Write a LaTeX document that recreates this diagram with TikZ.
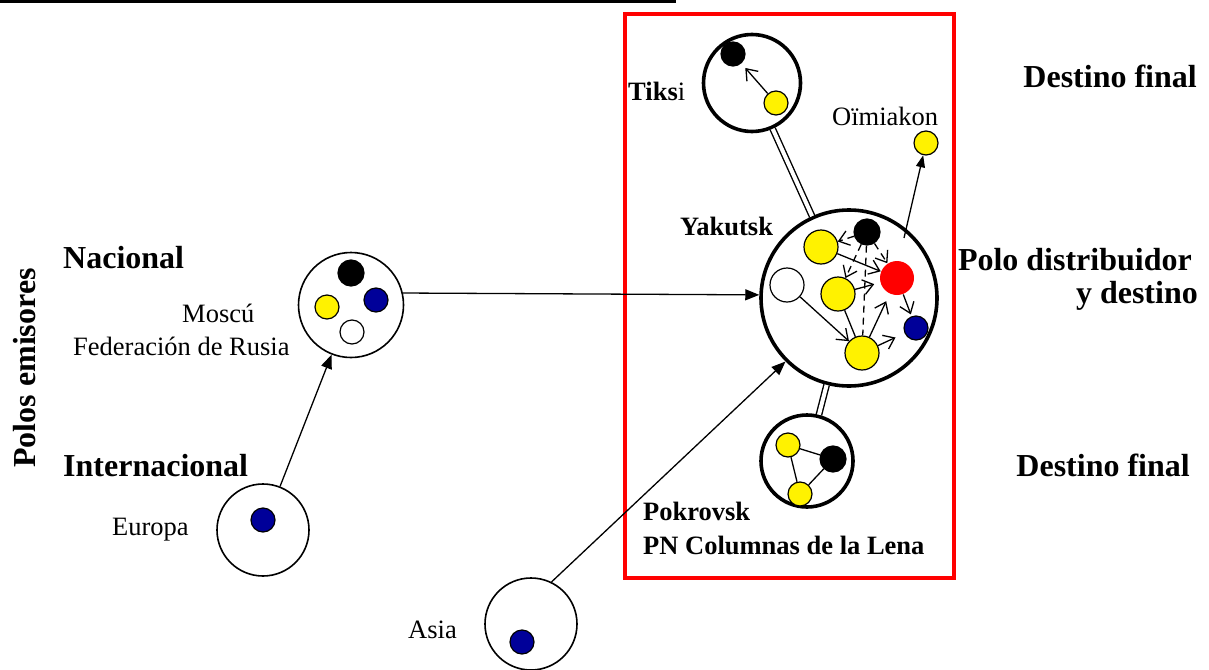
\documentclass[tikz,border=0pt]{standalone}
\usepackage{fontspec}
\setmainfont{Liberation Serif}
\usetikzlibrary{arrows.meta}
\definecolor{azul}{RGB}{0,0,153}

\tikzset{
  polo/.style={circle, draw, line width=1.6pt, inner sep=0pt},
  centro/.style={circle, draw, line width=3.6pt, inner sep=0pt},
  punto/.style={circle, draw, line width=1.2pt, inner sep=0pt, minimum size=24pt},
  bola/.style={punto, minimum size=34pt},
  flecha/.style={line width=1.3pt, -{Straight Barb[length=10pt,width=15pt]}},
  disc/.style={line width=1.3pt, dash pattern=on 7pt off 5pt},
  envio/.style={line width=1.3pt, -{Triangle[length=14pt,width=11pt]}},
  doble/.style={double, double distance=4pt, line width=1.4pt},
  titulo/.style={font=\fontsize{32}{38}\selectfont\bfseries, inner sep=0pt},
  lugar/.style={font=\fontsize{26.5}{32}\selectfont, inner sep=0pt},
  lugarB/.style={font=\fontsize{26.5}{32}\selectfont\bfseries, inner sep=0pt},
}

\begin{document}
\begin{tikzpicture}[x=1pt,y=-1pt]
\useasboundingbox (0,0) rectangle (1209,669);
\draw[line width=3pt] (0,1.5) -- (676,1.5);
\draw[red, line width=4pt] (625,14) rectangle (954,578);

% Tiksi
\node[centro, minimum size=97pt] (tiksi) at (752,83) {};
\node[punto, fill=black] (tiksiN) at (733,54) {};
\node[punto, fill=yellow] (tiksiY) at (776,103) {};
\draw[flecha, shorten >=6pt] (tiksiY) -- (tiksiN);
\node[lugar, anchor=base west] (lblTiksi) at (628,100) {\bfseries Tiks\mdseries i};

% Yakutsk
\node[centro, minimum size=176pt] (yakutsk) at (849,298) {};
\node[bola, fill=yellow] (yY1) at (821,247) {};
\node[punto, minimum size=26pt, fill=black] (yN) at (867,232) {};
\node[bola, draw=none, fill=red] (yR) at (897,278) {};
\node[bola, fill=white] (yB) at (787,285) {};
\node[bola, fill=yellow] (yY2) at (838,294) {};
\node[punto, fill=azul] (yA) at (916,328) {};
\node[bola, fill=yellow] (yY3) at (862,353) {};
\draw[flecha] (yY1) -- (yR);
\draw[disc, flecha] (yN) -- (yY1);
\draw[disc, flecha] (yN) -- (yR);
\draw[disc, flecha] (yN) -- (yY2);
\draw[disc] (yN) -- (yY3);
\draw[flecha, shorten >=6pt] (yY2) -- (yR);
\draw[flecha, shorten >=8pt] (yY3) -- (yR);
\draw[flecha, shorten >=10pt] (yY3) -- (yA);
\draw[flecha, shorten >=2pt] (yR) -- (yA);
\draw[flecha] (yB) -- (yY3);
\draw[line width=1.3pt] (yY2) -- (yY3);
\node[lugarB, anchor=base west] (lblYakutsk) at (680,235) {Yakutsk};

% Oimiakon
\node[punto, fill=yellow] (oimiakon) at (926,143) {};
\coordinate (oimiSalida) at (904,238);
\draw[line width=1.3pt, -{Triangle[length=12pt,width=9pt]}] (oimiSalida) -- (oimiakon);
\node[lugar, anchor=base west] (lblOimiakon) at (832,125) {Oïmiakon};

% Pokrovsk
\node[centro, minimum size=92pt] (pokrovsk) at (807,461) {};
\node[punto, fill=yellow] (pY1) at (788,445) {};
\node[punto, minimum size=26pt, fill=black] (pN) at (833,459) {};
\node[punto, fill=yellow] (pY2) at (800,494) {};
\draw[line width=1.3pt] (pY1) -- (pN) -- (pY2) -- (pY1);
\node[lugarB, anchor=base west] (lblPokrovsk) at (643,520) {Pokrovsk};
\node[lugarB, anchor=base west] (lblLena) at (643,554) {PN Columnas de la Lena};

\draw[doble] (tiksi) -- (yakutsk);
\draw[doble] (yakutsk) -- (pokrovsk);

% polos emisores
\node[polo, minimum size=105pt] (moscu) at (351,305) {};
\node[punto, minimum size=26pt, fill=black] (mN) at (351,273) {};
\node[punto, fill=yellow] (mY) at (327,307) {};
\node[punto, fill=azul] (mA) at (376,300) {};
\node[punto, fill=white] (mB) at (352,332) {};
\node[lugar, anchor=base west] (lblMoscu) at (182,322) {Moscú};
\node[lugar, anchor=base west] (lblRusia) at (73,355) {Federación de Rusia};

\node[polo, minimum size=92pt] (europa) at (263,530) {};
\node[punto, fill=azul] (eA) at (263,520) {};
\node[lugar, anchor=base west] (lblEuropa) at (112,535) {Europa};

\node[polo, minimum size=92pt] (asia) at (531,624) {};
\node[punto, fill=azul] (aA) at (522,642) {};
\node[lugar, anchor=base west] (lblAsia) at (408,638) {Asia};

\draw[envio] (moscu.13) -- (yakutsk.178);
\draw[envio] (europa) -- (moscu);
\draw[envio] (asia.64) -- (yakutsk.225);

% titulos
\node[titulo, anchor=base west] (lblNacional) at (63,268) {Nacional};
\node[titulo, anchor=base west] (lblInter) at (63,476) {Internacional};
\node[titulo, anchor=base, rotate=90] (lblPolos) at (35,368) {Polos emisores};
\node[titulo, anchor=base east] (lblDestino) at (1197,87) {Destino final};
\node[titulo, anchor=base east] (lblPolo) at (1192,270) {Polo distribuidor};
\node[titulo, anchor=base east] (lblYdest) at (1198,303) {y destino};
\node[titulo, anchor=base east] (lblDestinoB) at (1190,476) {Destino final};
\end{tikzpicture}
\end{document}
